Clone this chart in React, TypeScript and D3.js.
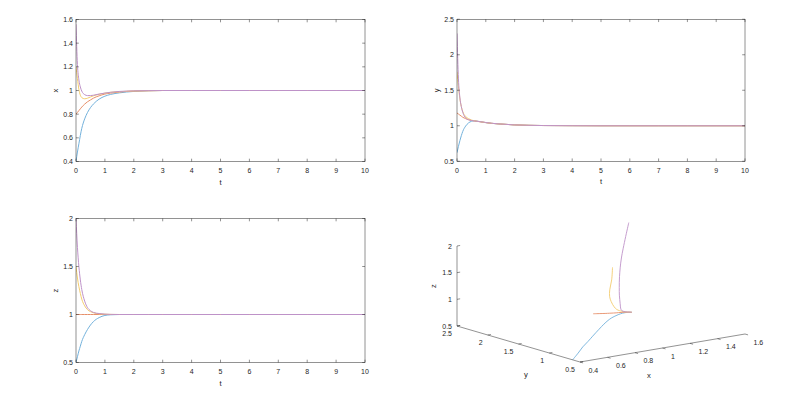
import React from 'react';
import * as d3 from 'd3';

// time samples shared by every series
const T = [0, 0.05, 0.1, 0.15, 0.2, 0.3, 0.4, 0.5, 0.6, 0.8, 1, 1.2, 1.5, 2, 2.5, 3, 4, 5, 6, 7, 8, 9, 10];

// x(t) for the four runs
const xBlue = [0.4, 0.48, 0.55, 0.62, 0.68, 0.76, 0.815, 0.855, 0.885, 0.927, 0.952, 0.967, 0.98, 0.992, 0.998, 1, 1, 1, 1, 1, 1, 1, 1];
const xOrange = [0.8, 0.815, 0.83, 0.845, 0.86, 0.885, 0.905, 0.92, 0.935, 0.955, 0.97, 0.978, 0.987, 0.995, 0.998, 1, 1, 1, 1, 1, 1, 1, 1];
const xYellow = [1.2, 1.1, 1.01, 0.96, 0.94, 0.93, 0.935, 0.945, 0.955, 0.968, 0.978, 0.985, 0.99, 0.996, 0.998, 1, 1, 1, 1, 1, 1, 1, 1];
const xPurple = [1.56, 1.22, 1.09, 1.03, 0.995, 0.965, 0.957, 0.957, 0.96, 0.97, 0.978, 0.985, 0.992, 0.997, 0.999, 1, 1, 1, 1, 1, 1, 1, 1];

// y(t)
const yBlue = [0.62, 0.71, 0.79, 0.86, 0.92, 0.995, 1.04, 1.062, 1.068, 1.058, 1.044, 1.034, 1.024, 1.012, 1.006, 1.003, 1.001, 1, 1, 1, 1, 1, 1];
const yOrange = [1.18, 1.165, 1.15, 1.135, 1.12, 1.1, 1.085, 1.075, 1.068, 1.056, 1.044, 1.034, 1.024, 1.012, 1.006, 1.003, 1.001, 1, 1, 1, 1, 1, 1];
const yYellow = [1.76, 1.55, 1.38, 1.27, 1.2, 1.13, 1.1, 1.08, 1.07, 1.057, 1.045, 1.034, 1.025, 1.012, 1.006, 1.003, 1.001, 1, 1, 1, 1, 1, 1];
const yPurple = [2.3, 1.66, 1.4, 1.27, 1.19, 1.11, 1.085, 1.075, 1.068, 1.058, 1.046, 1.035, 1.025, 1.012, 1.006, 1.003, 1.001, 1, 1, 1, 1, 1, 1];

// z(t)
const zBlue = [0.5, 0.56, 0.62, 0.67, 0.72, 0.79, 0.845, 0.89, 0.925, 0.968, 0.99, 0.997, 1, 1, 1, 1, 1, 1, 1, 1, 1, 1, 1];
const zOrange = [1, 1, 1, 1, 1, 1, 1, 1, 1, 1, 1, 1, 1, 1, 1, 1, 1, 1, 1, 1, 1, 1, 1];
const zYellow = [1.5, 1.38, 1.29, 1.22, 1.16, 1.09, 1.05, 1.03, 1.018, 1.007, 1.003, 1.001, 1, 1, 1, 1, 1, 1, 1, 1, 1, 1, 1];
const zPurple = [2, 1.7, 1.5, 1.36, 1.26, 1.14, 1.07, 1.04, 1.022, 1.01, 1.004, 1.001, 1, 1, 1, 1, 1, 1, 1, 1, 1, 1, 1];

const tTicks = [0, 1, 2, 3, 4, 5, 6, 7, 8, 9, 10];
const xTicks = [0.4, 0.6, 0.8, 1, 1.2, 1.4, 1.6];
const yTicks = [0.5, 1, 1.5, 2, 2.5];
const zTicks = [0.5, 1, 1.5, 2];

// default colour order, washed out the way thin anti-aliased lines look
const colors = ['#73B1DB', '#E68F69', '#F3CC6E', '#BE92C8'];
const FONT = '"Liberation Sans", Arial, Helvetica, sans-serif';
const INK = '#262626';
const LW = 1;

const fmt = (v: number) => String(+v.toFixed(2));

function TimePanel(props: any) {
  const { id, left, right, top, bottom, series, domain, ticks, label } = props;
  const xs = d3.scaleLinear().domain([0, 10]).range([left, right]);
  const ys = d3.scaleLinear().domain(domain).range([bottom, top]);
  const line = d3.line<number>()
    .x((_, i) => xs(T[i]))
    .y(v => ys(v))
    .curve(d3.curveMonotoneX);
  const tl = 2.8;
  return (
    <g>
      <defs>
        <clipPath id={id}>
          <rect x={left} y={top} width={right - left} height={bottom - top} />
        </clipPath>
      </defs>
      <g clipPath={`url(#${id})`}>
        {series.map((s: number[], i: number) => (
          <path key={i} d={line(s) || ''} fill="none" stroke={colors[i]} strokeWidth={LW} />
        ))}
      </g>
      <rect x={left} y={top} width={right - left} height={bottom - top} fill="none" stroke={INK} strokeWidth={0.5} />
      {tTicks.map(t => (
        <g key={'t' + t}>
          <line x1={xs(t)} x2={xs(t)} y1={bottom} y2={bottom - tl} stroke={INK} strokeWidth={0.5} />
          <line x1={xs(t)} x2={xs(t)} y1={top} y2={top + tl} stroke={INK} strokeWidth={0.5} />
          <text x={xs(t)} y={bottom + 11.5} textAnchor="middle" fontSize={7} fill={INK}>{t}</text>
        </g>
      ))}
      {ticks.map((v: number) => (
        <g key={'v' + v}>
          <line x1={left} x2={left + tl} y1={ys(v)} y2={ys(v)} stroke={INK} strokeWidth={0.5} />
          <line x1={right} x2={right - tl} y1={ys(v)} y2={ys(v)} stroke={INK} strokeWidth={0.5} />
          <text x={left - 3} y={ys(v) + 2.5} textAnchor="end" fontSize={7} fill={INK}>{fmt(v)}</text>
        </g>
      ))}
      <text x={(left + right) / 2} y={bottom + 23} textAnchor="middle" fontSize={7.7} fill={INK}>t</text>
      <text transform={`translate(${left - 18},${(top + bottom) / 2}) rotate(-90)`} textAnchor="middle" fontSize={7.7} fill={INK}>{label}</text>
    </g>
  );
}

function Panel3D() {
  const X3 = d3.scaleLinear().domain([0.4, 1.6]).range([0, 1]);
  const Y3 = d3.scaleLinear().domain([0.5, 2.5]).range([0, 1]);
  const Z3 = d3.scaleLinear().domain([0.5, 2]).range([0, 1]);
  const O = [580, 362], EX = [165, -28], EY = [-123, -36], EZ = [0, -80];
  const proj = (x: number, y: number, z: number): [number, number] => [
    O[0] + EX[0] * X3(x) + EY[0] * Y3(y) + EZ[0] * Z3(z),
    O[1] + EX[1] * X3(x) + EY[1] * Y3(y) + EZ[1] * Z3(z),
  ];
  const runs = [
    [xBlue, yBlue, zBlue],
    [xOrange, yOrange, zOrange],
    [xYellow, yYellow, zYellow],
    [xPurple, yPurple, zPurple],
  ];
  const line = d3.line<[number, number]>().curve(d3.curveCatmullRom);
  const exLen = Math.hypot(EX[0], EX[1]);
  const eyLen = Math.hypot(EY[0], EY[1]);
  const ux = [EX[0] / exLen * 3.2, EX[1] / exLen * 3.2];
  const uy = [EY[0] / eyLen * 3.2, EY[1] / eyLen * 3.2];
  const xa0 = proj(0.4, 0.5, 0.5), xa1 = proj(1.6, 0.5, 0.5);
  const ya1 = proj(0.4, 2.5, 0.5);
  const za1 = proj(0.4, 2.5, 2);
  return (
    <g>
      {runs.map((r, i) => {
        const pts = T.map((_, k) => proj(r[0][k], r[1][k], r[2][k]));
        return <path key={i} d={line(pts) || ''} fill="none" stroke={colors[i]} strokeWidth={0.9} />;
      })}
      <line x1={xa0[0]} y1={xa0[1]} x2={xa1[0]} y2={xa1[1]} stroke={INK} strokeWidth={0.5} />
      <line x1={xa0[0]} y1={xa0[1]} x2={ya1[0]} y2={ya1[1]} stroke={INK} strokeWidth={0.5} />
      <line x1={ya1[0]} y1={ya1[1]} x2={za1[0]} y2={za1[1]} stroke={INK} strokeWidth={0.5} />
      {xTicks.map(v => {
        const p = proj(v, 0.5, 0.5);
        return (
          <g key={'x' + v}>
            <line x1={p[0]} y1={p[1]} x2={p[0] - uy[0]} y2={p[1] - uy[1]} stroke={INK} strokeWidth={0.5} />
            <text x={p[0] + 8.5} y={p[1] + 10.5} fontSize={7} fill={INK}>{fmt(v)}</text>
          </g>
        );
      })}
      {yTicks.map(v => {
        const p = proj(0.4, v, 0.5);
        return (
          <g key={'y' + v}>
            <line x1={p[0]} y1={p[1]} x2={p[0] + ux[0]} y2={p[1] + ux[1]} stroke={INK} strokeWidth={0.5} />
            <text x={p[0] - 5} y={p[1] + 9.5} textAnchor="end" fontSize={7} fill={INK}>{fmt(v)}</text>
          </g>
        );
      })}
      {zTicks.map(v => {
        const p = proj(0.4, 2.5, v);
        return (
          <g key={'z' + v}>
            <line x1={p[0]} y1={p[1]} x2={p[0] + ux[0]} y2={p[1] + ux[1]} stroke={INK} strokeWidth={0.5} />
            <text x={p[0] - 5} y={p[1] + 2.5} textAnchor="end" fontSize={7} fill={INK}>{fmt(v)}</text>
          </g>
        );
      })}
      <text x={649} y={378} textAnchor="middle" fontSize={7.7} fill={INK}>x</text>
      <text x={526} y={377} textAnchor="middle" fontSize={7.7} fill={INK}>y</text>
      <text transform="translate(436,286) rotate(-90)" textAnchor="middle" fontSize={7.7} fill={INK}>z</text>
    </g>
  );
}

export default function App() {
  return (
    <svg width={806} height={401} style={{ position: 'absolute', left: 0, top: 0, background: '#fff' }} fontFamily={FONT}>
      <rect width={806} height={401} fill="#fff" />
      <TimePanel id="cx" left={76} right={365} top={19.5} bottom={161.5}
        series={[xBlue, xOrange, xYellow, xPurple]} domain={[0.4, 1.6]} ticks={xTicks} label="x" />
      <TimePanel id="cy" left={457} right={745} top={19.25} bottom={161.25}
        series={[yBlue, yOrange, yYellow, yPurple]} domain={[0.5, 2.5]} ticks={yTicks} label="y" />
      <TimePanel id="cz" left={76} right={365} top={218.5} bottom={362.5}
        series={[zBlue, zOrange, zYellow, zPurple]} domain={[0.5, 2]} ticks={zTicks} label="z" />
      <Panel3D />
    </svg>
  );
}
